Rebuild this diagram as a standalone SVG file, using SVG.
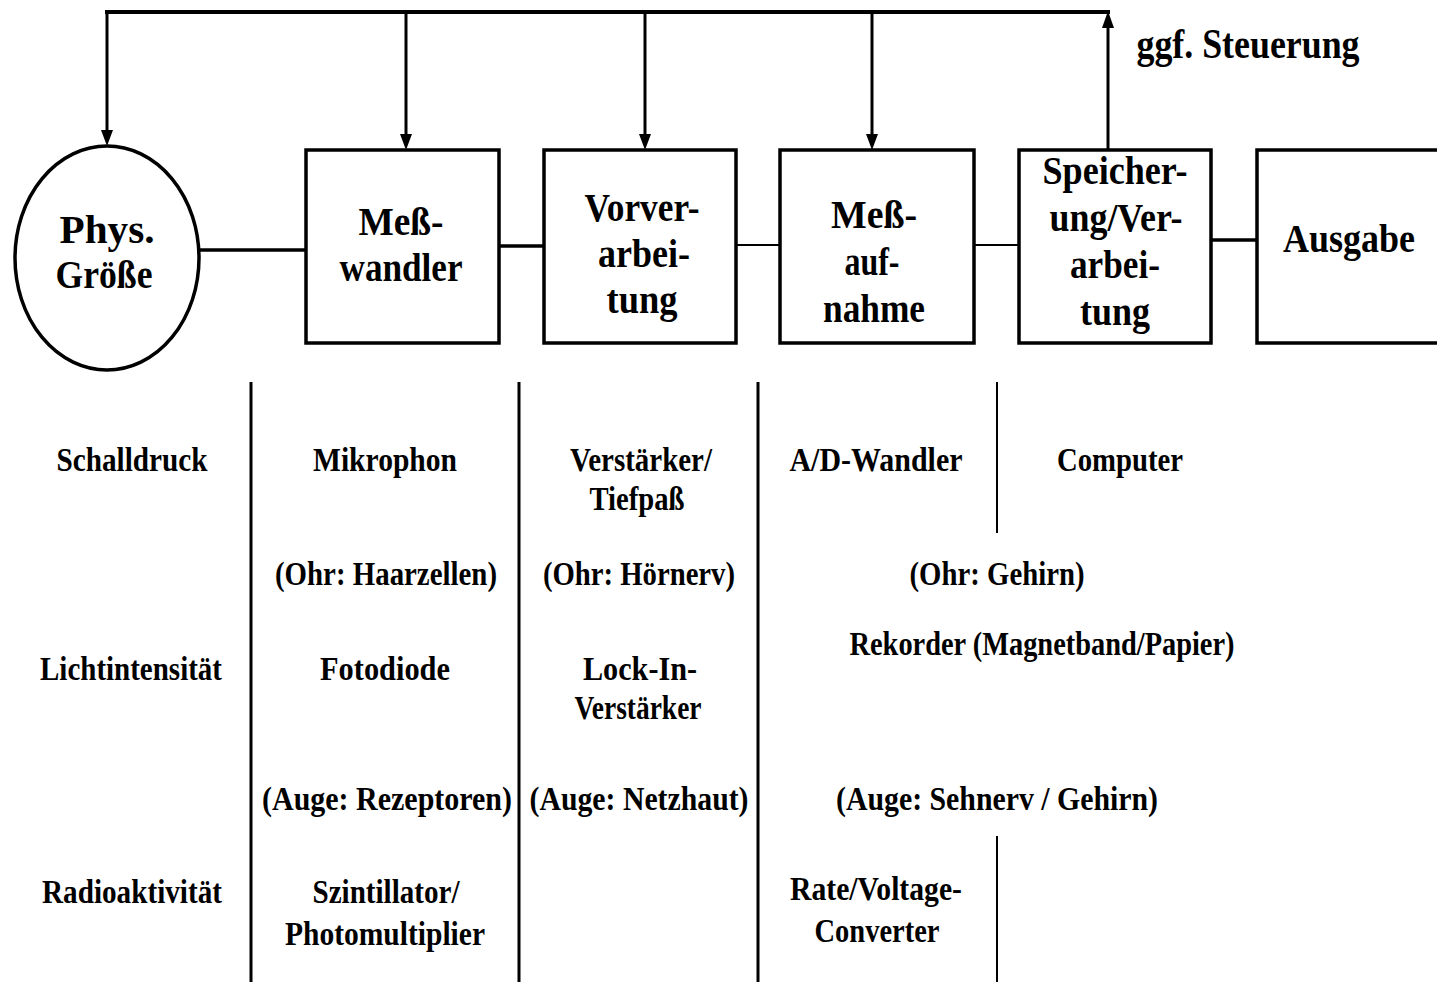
<svg xmlns="http://www.w3.org/2000/svg" width="1437" height="982" viewBox="0 0 1437 982">
<style>
text{font-family:"Liberation Serif","Times New Roman",serif;font-weight:bold;fill:#000;text-anchor:middle}
.bx{font-size:40px}
.lo{font-size:34px}
.box{fill:#fff;stroke:#000;stroke-width:3.5}
.ln{stroke:#000;fill:none}
.hd{fill:#000}
</style>
<rect width="1437" height="982" fill="#fff"/>
<g id="connectors">
<line class="ln" stroke-width="4" x1="105" y1="12" x2="1110" y2="12"/>
<line class="ln" stroke-width="3" x1="107" y1="12" x2="107" y2="130"/>
<path class="hd" d="M101,130 L113,130 L107,146 Z"/>
<line class="ln" stroke-width="3" x1="406" y1="12" x2="406" y2="134"/>
<path class="hd" d="M400,134 L412,134 L406,150 Z"/>
<line class="ln" stroke-width="3" x1="645" y1="12" x2="645" y2="134"/>
<path class="hd" d="M639,134 L651,134 L645,150 Z"/>
<line class="ln" stroke-width="3" x1="872" y1="12" x2="872" y2="134"/>
<path class="hd" d="M866,134 L878,134 L872,150 Z"/>
<line class="ln" stroke-width="3" x1="1108" y1="150" x2="1108" y2="28"/>
<path class="hd" d="M1102,28 L1114,28 L1108,11 Z"/>
<line class="ln" stroke-width="3.5" x1="199" y1="250" x2="306" y2="250"/>
<line class="ln" stroke-width="3.5" x1="499" y1="246" x2="544" y2="246"/>
<line class="ln" stroke-width="2" x1="736" y1="245" x2="780" y2="245"/>
<line class="ln" stroke-width="2" x1="974" y1="245" x2="1019" y2="245"/>
<line class="ln" stroke-width="3.5" x1="1211" y1="240" x2="1257" y2="240"/>
</g>
<g id="phys">
<ellipse cx="107" cy="258" rx="92" ry="112" fill="#fff" stroke="#000" stroke-width="3.5"/>
<text class="bx" x="107" y="243" textLength="95" lengthAdjust="spacingAndGlyphs">Phys.</text>
<text class="bx" x="104" y="288" textLength="97" lengthAdjust="spacingAndGlyphs">Größe</text>
</g>
<g id="messwandler">
<rect class="box" x="306" y="150" width="193" height="193"/>
<text class="bx" x="401" y="235" textLength="85" lengthAdjust="spacingAndGlyphs">Meß-</text>
<text class="bx" x="401" y="281" textLength="123" lengthAdjust="spacingAndGlyphs">wandler</text>
</g>
<g id="vorverarbeitung">
<rect class="box" x="544" y="150" width="192" height="193"/>
<text class="bx" x="642" y="221" textLength="115" lengthAdjust="spacingAndGlyphs">Vorver-</text>
<text class="bx" x="644" y="267" textLength="92" lengthAdjust="spacingAndGlyphs">arbei-</text>
<text class="bx" x="642" y="313" textLength="71" lengthAdjust="spacingAndGlyphs">tung</text>
</g>
<g id="messaufnahme">
<rect class="box" x="780" y="150" width="194" height="193"/>
<text class="bx" x="874" y="228" textLength="86" lengthAdjust="spacingAndGlyphs">Meß-</text>
<text class="bx" x="872" y="275" textLength="55" lengthAdjust="spacingAndGlyphs">auf-</text>
<text class="bx" x="874" y="322" textLength="102" lengthAdjust="spacingAndGlyphs">nahme</text>
</g>
<g id="speicherung">
<rect class="box" x="1019" y="150" width="192" height="193"/>
<text class="bx" x="1115" y="184" textLength="145" lengthAdjust="spacingAndGlyphs">Speicher-</text>
<text class="bx" x="1116" y="231" textLength="133" lengthAdjust="spacingAndGlyphs">ung/Ver-</text>
<text class="bx" x="1115" y="278" textLength="90" lengthAdjust="spacingAndGlyphs">arbei-</text>
<text class="bx" x="1115" y="325" textLength="70" lengthAdjust="spacingAndGlyphs">tung</text>
</g>
<g id="ausgabe">
<path d="M1437,150 H1257 V343 H1437" fill="#fff" stroke="#000" stroke-width="3.5"/>
<text class="bx" x="1349" y="252" textLength="132" lengthAdjust="spacingAndGlyphs">Ausgabe</text>
</g>
<g id="steuerung-label">
<text class="bx" x="1248" y="58" style="font-size:42px" textLength="223" lengthAdjust="spacingAndGlyphs">ggf. Steuerung</text>
</g>
<g id="table-lines">
<line class="ln" stroke-width="3" x1="251" y1="382" x2="251" y2="982"/>
<line class="ln" stroke-width="3" x1="519" y1="382" x2="519" y2="982"/>
<line class="ln" stroke-width="3" x1="758" y1="382" x2="758" y2="982"/>
<line class="ln" stroke-width="2" x1="997" y1="382" x2="997" y2="533"/>
<line class="ln" stroke-width="2" x1="997" y1="836" x2="997" y2="982"/>
</g>
<g id="table-text">
<text class="lo" x="132" y="471" textLength="151" lengthAdjust="spacingAndGlyphs">Schalldruck</text>
<text class="lo" x="385" y="471" textLength="144" lengthAdjust="spacingAndGlyphs">Mikrophon</text>
<text class="lo" x="641" y="471" textLength="142" lengthAdjust="spacingAndGlyphs">Verstärker/</text>
<text class="lo" x="637" y="510" textLength="95" lengthAdjust="spacingAndGlyphs">Tiefpaß</text>
<text class="lo" x="876" y="471" textLength="173" lengthAdjust="spacingAndGlyphs">A/D-Wandler</text>
<text class="lo" x="1120" y="471" textLength="126" lengthAdjust="spacingAndGlyphs">Computer</text>
<text class="lo" x="386" y="585" textLength="222" lengthAdjust="spacingAndGlyphs">(Ohr: Haarzellen)</text>
<text class="lo" x="639" y="585" textLength="192" lengthAdjust="spacingAndGlyphs">(Ohr: Hörnerv)</text>
<text class="lo" x="997" y="585" textLength="175" lengthAdjust="spacingAndGlyphs">(Ohr: Gehirn)</text>
<text class="lo" x="1042" y="655" textLength="385" lengthAdjust="spacingAndGlyphs">Rekorder (Magnetband/Papier)</text>
<text class="lo" x="131" y="680" textLength="182" lengthAdjust="spacingAndGlyphs">Lichtintensität</text>
<text class="lo" x="385" y="680" textLength="130" lengthAdjust="spacingAndGlyphs">Fotodiode</text>
<text class="lo" x="640" y="680" textLength="114" lengthAdjust="spacingAndGlyphs">Lock-In-</text>
<text class="lo" x="638" y="719" textLength="127" lengthAdjust="spacingAndGlyphs">Verstärker</text>
<text class="lo" x="387" y="810" textLength="250" lengthAdjust="spacingAndGlyphs">(Auge: Rezeptoren)</text>
<text class="lo" x="639" y="810" textLength="219" lengthAdjust="spacingAndGlyphs">(Auge: Netzhaut)</text>
<text class="lo" x="997" y="810" textLength="322" lengthAdjust="spacingAndGlyphs">(Auge: Sehnerv / Gehirn)</text>
<text class="lo" x="132" y="903" textLength="180" lengthAdjust="spacingAndGlyphs">Radioaktivität</text>
<text class="lo" x="386" y="903" textLength="147" lengthAdjust="spacingAndGlyphs">Szintillator/</text>
<text class="lo" x="385" y="945" textLength="200" lengthAdjust="spacingAndGlyphs">Photomultiplier</text>
<text class="lo" x="876" y="900" textLength="172" lengthAdjust="spacingAndGlyphs">Rate/Voltage-</text>
<text class="lo" x="877" y="942" textLength="125" lengthAdjust="spacingAndGlyphs">Converter</text>
</g>
</svg>
